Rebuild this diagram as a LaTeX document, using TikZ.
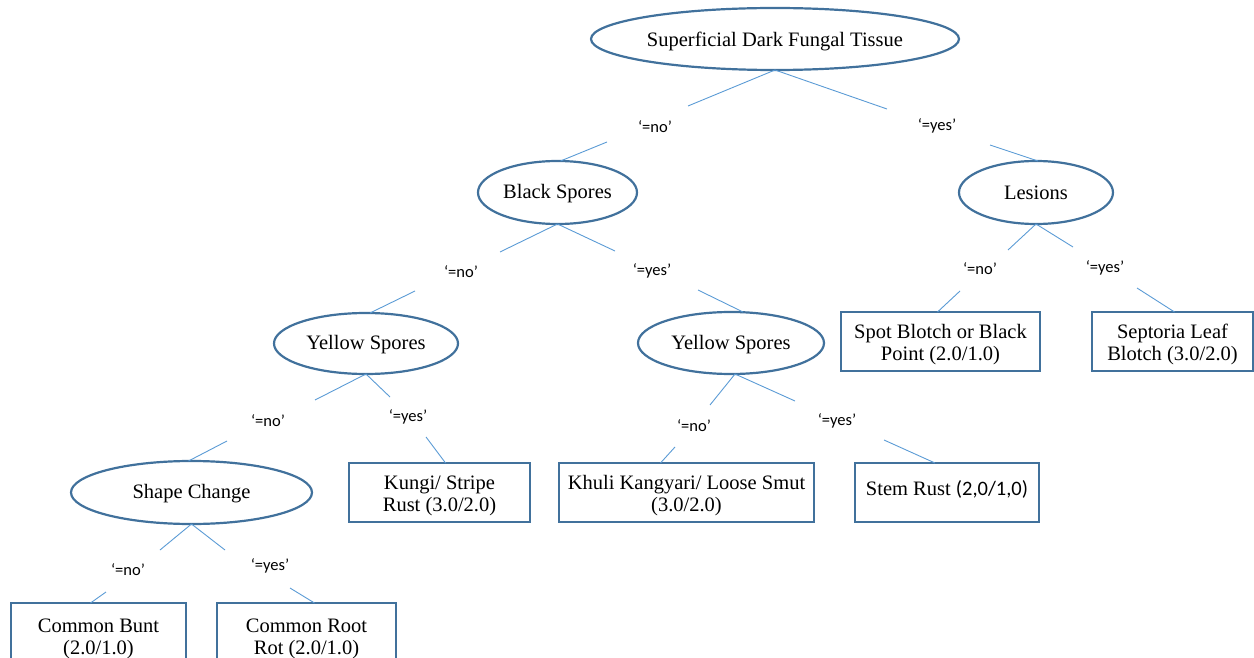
\documentclass[tikz,border=0pt]{standalone}
\usepackage{fontspec}
\setmainfont{Liberation Serif}
\newfontfamily\lblfont{Carlito}
\usetikzlibrary{shapes.geometric,calc}
\definecolor{bordercol}{HTML}{41719C}
\definecolor{conncol}{HTML}{5B9BD5}
\newcommand{\shiftt}[2]{\raisebox{#1}[\height][\depth]{#2}}
\newcommand{\twolines}[3]{\shiftt{#1}{\begin{tabular}{@{}c@{}}#2\\#3\end{tabular}}}
\begin{document}
\begin{tikzpicture}[x=1pt,y=-1pt,
  every node/.style={inner sep=0pt,outer sep=0pt},
  decision/.style={ellipse,draw=bordercol,line width=2.2pt,font=\fontsize{20.5}{22}\selectfont},
  leafbox/.style={rectangle,draw=bordercol,line width=2.2pt,align=center,font=\fontsize{20.5}{22}\selectfont},
  conn/.style={draw=conncol,line width=0.9pt},
  edgelbl/.style={font=\lblfont\fontsize{16.5}{18}\selectfont}]
\useasboundingbox (0,0) rectangle (1254,658);
% decision nodes
\node[decision,minimum width=368,minimum height=62] (root) at (775,39) {\shiftt{-2pt}{Superficial Dark Fungal Tissue}};
\node[decision,minimum width=159,minimum height=63] (bs) at (557.5,192.5) {\shiftt{-1.5pt}{Black Spores}};
\node[decision,minimum width=154,minimum height=63] (les) at (1036,192.5) {Lesions};
\node[decision,minimum width=184,minimum height=61] (ysl) at (366,343.5) {\shiftt{-1.5pt}{Yellow Spores}};
\node[decision,minimum width=186,minimum height=62] (ysr) at (731,343) {\shiftt{-1.5pt}{Yellow Spores}};
\node[decision,minimum width=241,minimum height=63] (sc) at (191.5,492.5) {\shiftt{-1.5pt}{Shape Change}};
% leaves
\node[leafbox,minimum width=199,minimum height=59] (spot) at (940.5,341.5) {\twolines{-4pt}{Spot Blotch or Black}{Point (2.0/1.0)}};
\node[leafbox,minimum width=161,minimum height=59] (sept) at (1172.5,341.5) {\twolines{-4pt}{Septoria Leaf}{Blotch (3.0/2.0)}};
\node[leafbox,minimum width=181,minimum height=59] (kungi) at (439.5,492.5) {\twolines{-4pt}{Kungi/ Stripe}{Rust (3.0/2.0)}};
\node[leafbox,minimum width=255,minimum height=59] (khuli) at (686.5,492.5) {\twolines{-4pt}{Khuli Kangyari/ Loose Smut}{(3.0/2.0)}};
\node[leafbox,minimum width=184,minimum height=59] (stem) at (947,492.5) {\shiftt{3pt}{Stem Rust {\lblfont(2,0/1,0)}}};
\node[leafbox,minimum width=175,minimum height=70] (cb) at (98.5,638) {\twolines{-1pt}{Common Bunt}{(2.0/1.0)}};
\node[leafbox,minimum width=179,minimum height=70] (crr) at (306.5,638) {\twolines{-1pt}{Common Root}{Rot (2.0/1.0)}};
% connector break points
\coordinate (r1a) at (688,106); \coordinate (r1b) at (607,142);
\coordinate (r2a) at (887,109); \coordinate (r2b) at (990,145);
\coordinate (b1a) at (500,252); \coordinate (b1b) at (415,291);
\coordinate (b2a) at (615,251); \coordinate (b2b) at (698,290);
\coordinate (l1a) at (1008,250); \coordinate (l1b) at (960,291);
\coordinate (l2a) at (1073,247); \coordinate (l2b) at (1137,288);
\coordinate (y1a) at (315,400); \coordinate (y1b) at (227,441);
\coordinate (y2a) at (390,397); \coordinate (y2b) at (426,437);
\coordinate (s1a) at (160,550); \coordinate (s1b) at (106,592);
\coordinate (s2a) at (225,550); \coordinate (s2b) at (290,588);
\coordinate (z1a) at (710,405); \coordinate (z1b) at (675,447);
\coordinate (z2a) at (795,401); \coordinate (z2b) at (884,440);
% connectors
\draw[conn] (root.south) -- (r1a);  \draw[conn] (r1b) -- ($(bs.north)+(3,0)$);
\draw[conn] (root.south) -- (r2a);  \draw[conn] (r2b) -- ($(les.north)+(2,0)$);
\draw[conn] (bs.south) -- (b1a);    \draw[conn] (b1b) -- ($(ysl.north)+(4,0)$);
\draw[conn] (bs.south) -- (b2a);    \draw[conn] (b2b) -- ($(ysr.north)+(12,0)$);
\draw[conn] (les.south) -- (l1a);   \draw[conn] (l1b) -- ($(spot.north)+(-3,0)$);
\draw[conn] (les.south) -- (l2a);   \draw[conn] (l2b) -- ($(sept.north)+(2,0)$);
\draw[conn] (ysl.south) -- (y1a);   \draw[conn] (y1b) -- ($(sc.north)+(-3,0)$);
\draw[conn] (ysl.south) -- (y2a);   \draw[conn] (y2b) -- ($(kungi.north)+(6,0)$);
\draw[conn] (sc.south) -- (s1a);    \draw[conn] (s1b) -- ($(cb.north)+(-8,0)$);
\draw[conn] (sc.south) -- (s2a);    \draw[conn] (s2b) -- ($(crr.north)+(8,0)$);
\draw[conn] ($(ysr.south)+(4,0)$) -- (z1a); \draw[conn] (z1b) -- ($(khuli.north)+(-26,0)$);
\draw[conn] ($(ysr.south)+(4,0)$) -- (z2a); \draw[conn] (z2b) -- ($(stem.north)+(-12,0)$);
% edge labels
\node[edgelbl] (t1) at (655,127) {‘=no’};
\node[edgelbl] (t2) at (937,126) {‘=yes’};
\node[edgelbl] (t3) at (461,272) {‘=no’};
\node[edgelbl] (t4) at (652,271) {‘=yes’};
\node[edgelbl] (t5) at (980,269) {‘=no’};
\node[edgelbl] (t6) at (1105,268) {‘=yes’};
\node[edgelbl] (t7) at (268,421) {‘=no’};
\node[edgelbl] (t8) at (408,417) {‘=yes’};
\node[edgelbl] (t9) at (128,570) {‘=no’};
\node[edgelbl] (t10) at (270,566) {‘=yes’};
\node[edgelbl] (t11) at (694,426) {‘=no’};
\node[edgelbl] (t12) at (837,421) {‘=yes’};
\end{tikzpicture}
\end{document}
